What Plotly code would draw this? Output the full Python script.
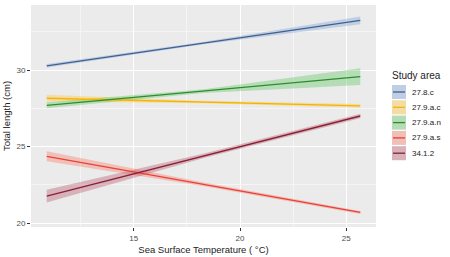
import plotly.graph_objects as go

# ---- data ----
areas = ["27.8.c", "27.9.a.c", "27.9.a.n", "27.9.a.s", "34.1.2"]
x_line = [10.9, 25.66]
y_line = {
    "27.8.c":   [30.28, 33.25],
    "27.9.a.c": [28.16, 27.66],
    "27.9.a.n": [27.70, 29.57],
    "27.9.a.s": [24.37, 20.70],
    "34.1.2":   [21.77, 27.00],
}
x_band = [10.9, 18.3, 25.66]
band_lo = {
    "27.8.c":   [30.16, 31.69, 33.00],
    "27.9.a.c": [27.94, 27.83, 27.54],
    "27.9.a.n": [27.50, 28.51, 29.02],
    "27.9.a.s": [24.05, 22.41, 20.60],
    "34.1.2":   [21.35, 24.25, 26.85],
}
band_hi = {
    "27.8.c":   [30.40, 31.85, 33.50],
    "27.9.a.c": [28.38, 27.99, 27.78],
    "27.9.a.n": [27.90, 28.75, 30.12],
    "27.9.a.s": [24.69, 22.65, 20.80],
    "34.1.2":   [22.19, 24.55, 27.15],
}
x_ticks = [15, 20, 25]
y_ticks = [20, 25, 30]

line_col = {
    "27.8.c": "#40608f",
    "27.9.a.c": "#f5b400",
    "27.9.a.n": "#2e8b2e",
    "27.9.a.s": "#e8403a",
    "34.1.2": "#8b2035",
}
fill_col = {
    "27.8.c": "rgba(120,160,215,0.38)",
    "27.9.a.c": "rgba(255,200,60,0.40)",
    "27.9.a.n": "rgba(80,195,80,0.35)",
    "27.9.a.s": "rgba(250,120,100,0.38)",
    "34.1.2": "rgba(175,60,85,0.32)",
}

fig = go.Figure()
for a in areas:
    fig.add_trace(go.Scatter(x=x_band, y=band_lo[a], mode="lines",
                             line=dict(width=0), showlegend=False, hoverinfo="skip"))
    fig.add_trace(go.Scatter(x=x_band, y=band_hi[a], mode="lines", fill="tonexty",
                             fillcolor=fill_col[a], line=dict(width=0),
                             showlegend=False, hoverinfo="skip"))
for a in areas:
    fig.add_trace(go.Scatter(x=x_line, y=y_line[a], mode="lines", name=a,
                             line=dict(color=line_col[a], width=1.3), showlegend=False))

# ---- manual ggplot-like legend ----
W, H = 450, 257
ML, MR, MT, MB = 31, 74, 5, 30
PW, PH = W - ML - MR, H - MT - MB
def px(x): return (x - ML) / PW
def py(y): return 1 - (y - MT) / PH

shapes = []
annotations = [dict(text="Study area", x=px(390), y=py(75), xref="paper", yref="paper",
                    xanchor="left", yanchor="middle", showarrow=False,
                    font=dict(size=10, color="#222"))]
for i, a in enumerate(areas):
    cy = 92 + i * 15.3
    shapes.append(dict(type="rect", xref="paper", yref="paper",
                       x0=px(392), x1=px(406), y0=py(cy - 7), y1=py(cy + 7),
                       fillcolor="#ebebeb", line=dict(width=0)))
    shapes.append(dict(type="rect", xref="paper", yref="paper",
                       x0=px(392), x1=px(406), y0=py(cy - 7), y1=py(cy + 7),
                       fillcolor=fill_col[a], line=dict(width=0)))
    shapes.append(dict(type="line", xref="paper", yref="paper",
                       x0=px(393), x1=px(405), y0=py(cy), y1=py(cy),
                       line=dict(color=line_col[a], width=1.3)))
    annotations.append(dict(text=a, x=px(410), y=py(cy), xref="paper", yref="paper",
                            xanchor="left", yanchor="middle", showarrow=False,
                            font=dict(size=8, color="#222")))

fig.update_layout(
    width=W, height=H,
    margin=dict(l=ML, r=MR, t=MT, b=MB),
    paper_bgcolor="white", plot_bgcolor="#ebebeb",
    font=dict(family="Liberation Sans, Arial, sans-serif", color="#222"),
    shapes=shapes, annotations=annotations,
    showlegend=False,
)
fig.update_xaxes(range=[10.16, 26.4], tickvals=x_ticks, ticks="outside", ticklen=3,
                 tickcolor="#333", tickfont=dict(size=8, color="#4d4d4d"),
                 showgrid=True, gridcolor="white", gridwidth=1, zeroline=False,
                 minor=dict(dtick=2.5, tick0=0, showgrid=True, gridcolor="#f5f5f5", gridwidth=0.5),
                 title=dict(text="Sea Surface Temperature ( °C)", font=dict(size=9.5), standoff=4))
fig.update_yaxes(range=[19.75, 34.25], tickvals=y_ticks, ticks="outside", ticklen=3,
                 tickcolor="#333", tickfont=dict(size=8, color="#4d4d4d"),
                 showgrid=True, gridcolor="white", gridwidth=1, zeroline=False,
                 minor=dict(dtick=2.5, tick0=0, showgrid=True, gridcolor="#f5f5f5", gridwidth=0.5),
                 title=dict(text="Total length (cm)", font=dict(size=9.5), standoff=4))

fig.write_html("out.html")
